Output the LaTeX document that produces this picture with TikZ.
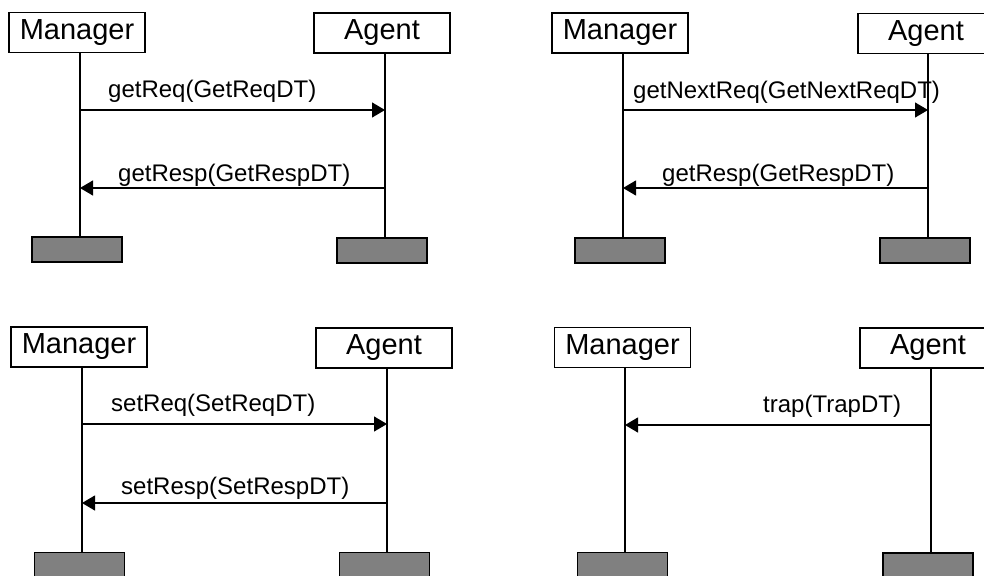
\documentclass[tikz,border=0pt]{standalone}
\usepackage{fontspec}
\setmainfont{Liberation Sans}
\usetikzlibrary{arrows.meta}
\definecolor{barfill}{HTML}{808080}
\begin{document}
\begin{tikzpicture}[x=1pt,y=-1pt,
  head/.style={draw, line width=1.2pt, fill=white, minimum width=136pt,
    minimum height=40pt, inner sep=0pt, font=\fontsize{29}{34}\selectfont},
  foot/.style={draw, line width=1.2pt, fill=barfill, minimum width=90pt,
    minimum height=25pt, inner sep=0pt},
  life/.style={line width=1.2pt},
  msg/.style={line width=1.2pt, -{Triangle[length=13pt,width=15pt]}},
  lbl/.style={anchor=base west, inner sep=0pt, font=\fontsize{24}{28}\selectfont}]
\useasboundingbox (0,0) rectangle (984,575);
\clip (0,0) rectangle (984,575);

% ---- get ----
\node[head] (tlM) at (77,32.5) {Manager};
\node[head] (tlA) at (382,33) {Agent};
\node[foot] (tlMf) at (77,249.5) {};
\node[foot] (tlAf) at (382,250.5) {};
\coordinate (tlMx) at (80,0);
\coordinate (tlAx) at (385,0);
\draw[life] (tlM.south -| tlMx) -- (tlMf.north -| tlMx);
\draw[life] (tlA.south -| tlAx) -- (tlAf.north -| tlAx);
\coordinate (tl1a) at (80,110);  \coordinate (tl1b) at (385,110);
\coordinate (tl2a) at (385,188); \coordinate (tl2b) at (80,188);
\draw[msg] (tl1a) -- (tl1b);
\draw[msg] (tl2a) -- (tl2b);
\node[lbl] (tl1t) at (108,98) {getReq(GetReqDT)};
\node[lbl] (tl2t) at (118,181) {getResp(GetRespDT)};

% ---- getNext ----
\node[head] (trM) at (620,33) {Manager};
\node[head] (trA) at (926,33.5) {Agent};
\node[foot] (trMf) at (620,250.5) {};
\node[foot] (trAf) at (925,250.5) {};
\coordinate (trMx) at (623,0);
\coordinate (trAx) at (928,0);
\draw[life] (trM.south -| trMx) -- (trMf.north -| trMx);
\draw[life] (trA.south -| trAx) -- (trAf.north -| trAx);
\coordinate (tr1a) at (623,110); \coordinate (tr1b) at (928,110);
\coordinate (tr2a) at (928,188); \coordinate (tr2b) at (623,188);
\draw[msg] (tr1a) -- (tr1b);
\draw[msg] (tr2a) -- (tr2b);
\node[lbl] (tr1t) at (633,99) {getNextReq(GetNextReqDT)};
\node[lbl] (tr2t) at (662,181) {getResp(GetRespDT)};

% ---- set ----
\node[head] (blM) at (79,347) {Manager};
\node[head] (blA) at (384,348) {Agent};
\node[foot] (blMf) at (79.5,565) {};
\node[foot] (blAf) at (384.5,565) {};
\coordinate (blMx) at (82,0);
\coordinate (blAx) at (387,0);
\draw[life] (blM.south -| blMx) -- (blMf.north -| blMx);
\draw[life] (blA.south -| blAx) -- (blAf.north -| blAx);
\coordinate (bl1a) at (82,424);  \coordinate (bl1b) at (387,424);
\coordinate (bl2a) at (387,503); \coordinate (bl2b) at (82,503);
\draw[msg] (bl1a) -- (bl1b);
\draw[msg] (bl2a) -- (bl2b);
\node[lbl] (bl1t) at (111,411) {setReq(SetReqDT)};
\node[lbl] (bl2t) at (121,494) {setResp(SetRespDT)};

% ---- trap ----
\node[head] (brM) at (622.5,347.5) {Manager};
\node[head] (brA) at (928,348) {Agent};
\node[foot] (brMf) at (622.5,565) {};
\node[foot] (brAf) at (928,565.5) {};
\coordinate (brMx) at (625,0);
\coordinate (brAx) at (931,0);
\draw[life] (brM.south -| brMx) -- (brMf.north -| brMx);
\draw[life] (brA.south -| brAx) -- (brAf.north -| brAx);
\coordinate (br1a) at (931,425); \coordinate (br1b) at (625,425);
\draw[msg] (br1a) -- (br1b);
\node[lbl] (br1t) at (763,412) {trap(TrapDT)};
\end{tikzpicture}
\end{document}
